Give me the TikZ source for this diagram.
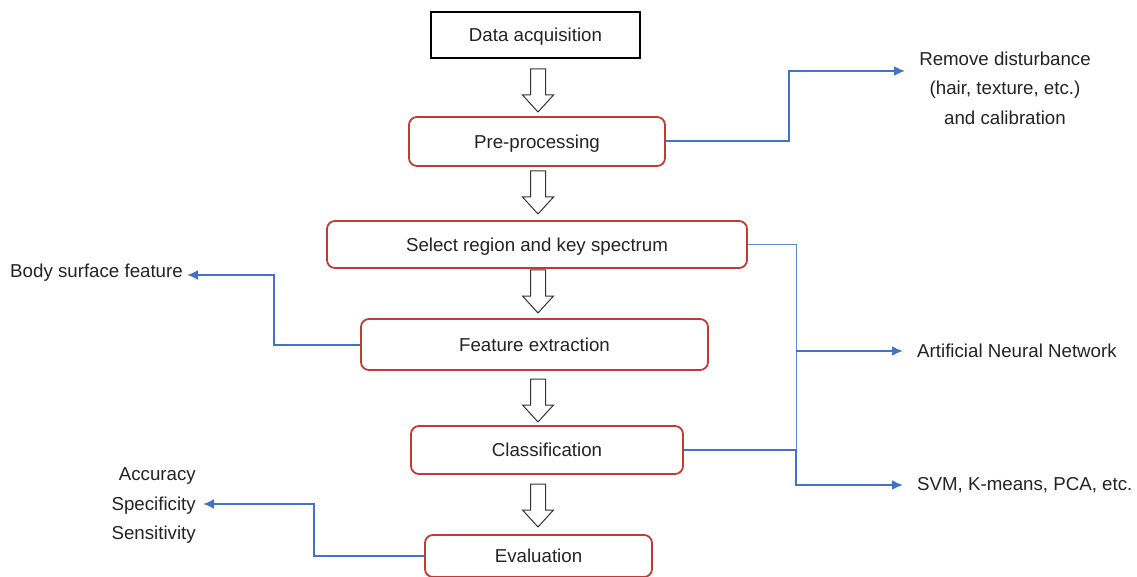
\documentclass[tikz,border=0pt]{standalone}
\usepackage{fontspec}
\setmainfont{Liberation Sans}
\usetikzlibrary{arrows.meta}

\definecolor{boxred}{RGB}{192,60,50}
\definecolor{lineblue}{RGB}{68,114,196}
\definecolor{txtgray}{RGB}{35,35,35}

\begin{document}
\begin{tikzpicture}[x=1pt,y=-1pt,
    font=\fontsize{18.7}{22}\selectfont, text=txtgray,
    step box/.style={draw=boxred, line width=1.8pt, rounded corners=8pt, inner sep=0pt, text height=13.5pt, text depth=0pt},
    hollow arrow/.style={draw=black!80, line width=1pt, fill=white, line join=miter},
    side line/.style={draw=lineblue, line width=2pt, -{Latex[length=11pt,width=10pt]}},
    ]
    \useasboundingbox (0,0) rectangle (1137,577);

    \node [draw=black, line width=1.8pt, minimum width=209pt, minimum height=46pt, inner sep=0pt, text height=13.5pt, text depth=0pt](acq) at (535.5,35){Data acquisition};
    \node [step box, minimum width=256pt, minimum height=49pt](pre) at (537,141.5){Pre-processing};
    \node [step box, minimum width=420pt, minimum height=47pt](sel) at (537,244.5){Select region and key spectrum};
    \node [step box, minimum width=347pt, minimum height=51pt](feat) at (534.5,344.5){Feature extraction};
    \node [step box, minimum width=272pt, minimum height=48pt](cls) at (547,450){Classification};
    \node [step box, minimum width=227pt, minimum height=42pt](eval) at (538.5,556){Evaluation};

    % hollow arrows between the steps
    \foreach \name/\top in {a1/69, a2/171, a3/270, a4/379, a5/484}{
        \coordinate (\name) at (538,\top);
        \draw[hollow arrow] (\name) ++(-7.5,0) -- ++(0,26) -- ++(-8,0) -- ++(15.5,17)
            -- ++(15.5,-17) -- ++(-8,0) -- ++(0,-26) -- cycle;
    }

    \node [align=center, inner sep=0pt](remove) at (1005,88){Remove disturbance\\[7.5pt](hair, texture, etc.)\\[7.5pt]and calibration};
    \node [anchor=east, inner sep=0pt](body) at (183,273){Body surface feature};
    \node [anchor=west, inner sep=0pt](ann) at (917,351){Artificial Neural Network};
    \node [anchor=west, inner sep=0pt](svm) at (917,485){SVM, K-means, PCA, etc.};
    \node [align=right, anchor=east, inner sep=0pt](metrics) at (196,506){Accuracy\\[7.5pt]Specificity\\[7.5pt]Sensitivity};

    \coordinate (bend) at (796,244.5);
    \coordinate (fork) at (796,351);
    \coordinate (join) at (796,485);

    \path[side line] (pre.east) -| (789,71) -- ([xshift=-14pt]remove.west |- 0,71);
    \path[side line] (feat.west) -| (274,275) -- ([xshift=4pt]body.east |- 0,275);
    \path[side line] (eval.west) -| (314,504) -- ([xshift=7pt]metrics.east |- 0,504);
    \draw[lineblue!85, line width=1pt] (sel.east) -- (bend) -- (join);
    \path[side line] (fork) -- ([xshift=-14pt]ann.west |- fork);
    \path[side line] (cls.east) -| (join) -- ([xshift=-14pt]svm.west |- join);
\end{tikzpicture}
\end{document}
